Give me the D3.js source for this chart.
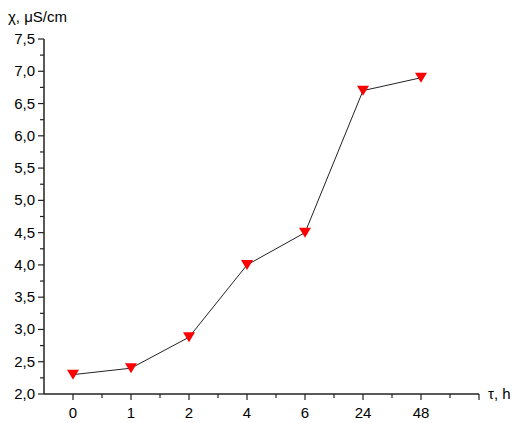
<!DOCTYPE html>
<html>
<head>
<meta charset="utf-8">
<script src="https://cdn.jsdelivr.net/npm/d3@7"></script>
<style>
body{margin:0;background:#fff;overflow:hidden;}
text{font-family:"Liberation Sans",Arial,sans-serif;}
</style>
</head>
<body>
<script>
// data
var categories = ["0","1","2","4","6","24","48"];
var values = [2.3, 2.4, 2.88, 4.0, 4.5, 6.7, 6.9];
var yTicks = [2.0,2.5,3.0,3.5,4.0,4.5,5.0,5.5,6.0,6.5,7.0,7.5];

var width=518, height=423;
var mLeft=44, mRight=479, mTop=39, mBottom=394;

var svg=d3.select("body").append("svg")
  .attr("width",width).attr("height",height).style("display","block");

var xscale=d3.scaleLinear().domain([-0.5,7]).range([mLeft,mRight]);
var yscale=d3.scaleLinear().domain([2,7.5]).range([mBottom,mTop]);

// x axis
var xMajor=d3.range(0,8,1), xMinor=d3.range(0.5,7,1);
var xAxis=svg.append("g").attr("transform","translate(0,"+mBottom+")");
xAxis.append("line").attr("x1",mLeft).attr("x2",mRight).attr("stroke","#222").attr("stroke-width",1.5);
xAxis.selectAll(".maj").data(xMajor).enter().append("line")
  .attr("x1",d=>xscale(d)).attr("x2",d=>xscale(d)).attr("y1",0).attr("y2",6)
  .attr("stroke","#222").attr("stroke-width",1.2);
xAxis.selectAll(".min").data(xMinor).enter().append("line")
  .attr("x1",d=>xscale(d)).attr("x2",d=>xscale(d)).attr("y1",0).attr("y2",4)
  .attr("stroke","#222").attr("stroke-width",1.2);
xAxis.selectAll(".lab").data(categories).enter().append("text")
  .attr("x",(d,i)=>xscale(i)).attr("y",24).attr("text-anchor","middle")
  .attr("font-size",15).text(d=>d);
svg.append("text").attr("x",488).attr("y",399).attr("font-size",15).text("τ, h");

// y axis
var yAxis=svg.append("g");
yAxis.append("line").attr("x1",mLeft).attr("x2",mLeft).attr("y1",mBottom).attr("y2",mTop)
  .attr("stroke","#222").attr("stroke-width",1.5);
yAxis.selectAll(".maj").data(yTicks).enter().append("line")
  .attr("x1",mLeft-6).attr("x2",mLeft).attr("y1",d=>yscale(d)).attr("y2",d=>yscale(d))
  .attr("stroke","#222").attr("stroke-width",1.2);
yAxis.selectAll(".min").data(yTicks.slice(0,-1)).enter().append("line")
  .attr("x1",mLeft-4).attr("x2",mLeft).attr("y1",d=>yscale(d+0.25)).attr("y2",d=>yscale(d+0.25))
  .attr("stroke","#222").attr("stroke-width",1.2);
yAxis.selectAll(".lab").data(yTicks).enter().append("text")
  .attr("x",mLeft-9).attr("y",d=>yscale(d)+5).attr("text-anchor","end")
  .attr("font-size",15).text(d=>d.toFixed(1).replace(".",","));
svg.append("text").attr("x",8).attr("y",22).attr("font-size",15).text("χ, μS/cm");

// line + markers
var line=d3.line().x((d,i)=>xscale(i)).y(d=>yscale(d));
svg.append("path").datum(values).attr("d",line)
  .attr("fill","none").attr("stroke","#222").attr("stroke-width",1);
svg.selectAll(".pt").data(values).enter().append("path")
  .attr("transform",(d,i)=>"translate("+xscale(i)+","+yscale(d)+")")
  .attr("d","M-6,-5L6,-5L0,5Z").attr("fill","#ff0000");
</script>
</body>
</html>
